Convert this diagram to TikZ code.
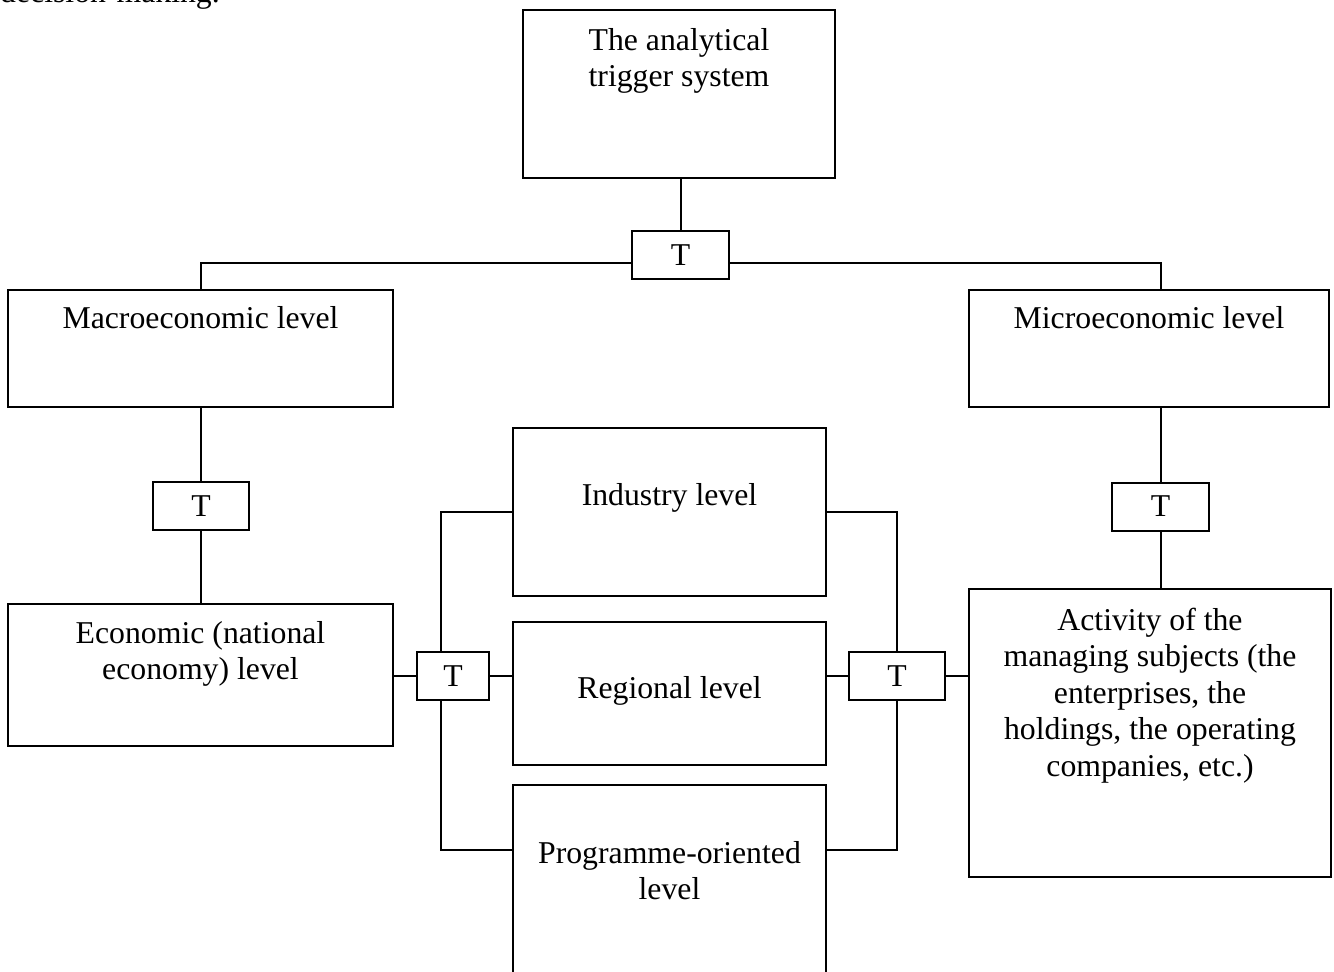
\documentclass[tikz,border=0pt]{standalone}
\usepackage{fontspec}
\setmainfont{Liberation Serif}
\usetikzlibrary{backgrounds}
\begin{document}
\begin{tikzpicture}[x=1pt,y=-1pt,
  box/.style={draw, line width=2pt, fill=white, inner sep=0pt},
  sz/.style 2 args={minimum width=#1pt, minimum height=#2pt},
  txt/.style={font=\fontsize{31.75}{36.5}\selectfont, align=center, inner sep=0pt, anchor=base},
  tbox/.style={box, minimum height=48pt, font=\fontsize{31.75}{36.5}\selectfont},
  conn/.style={line width=2pt}]
\useasboundingbox (0,0) rectangle (1334,972);
\clip (0,0) rectangle (1334,972);
% boxes
\node[box, sz={312}{168}] (top) at (679,94) {};
\node[tbox, minimum width=97pt] (tT) at (680.5,255) {T};
\node[box, sz={385}{117}] (macro) at (200.5,348.5) {};
\node[box, sz={360}{117}] (micro) at (1149,348.5) {};
\node[tbox, minimum width=96pt] (tA) at (201,506) {T};
\node[tbox, minimum width=97pt] (tR) at (1160.5,506.5) {T};
\node[box, sz={385}{142}] (econ) at (200.5,675) {};
\node[box, sz={313}{168}] (industry) at (669.5,512) {};
\node[box, sz={313}{143}] (regional) at (669.5,693.5) {};
\node[box, sz={313}{240}] (programme) at (669.5,905) {};
\node[box, sz={362}{288}] (act) at (1150,733) {};
\node[tbox, minimum width=72pt] (tL) at (453,676) {T};
\node[tbox, minimum width=96pt] (tM) at (897,676) {T};
\coordinate (pL) at (441,850);
\coordinate (pR) at (897,850);
% texts (anchor = baseline of the last line)
\node[txt] (dm) [anchor=base west] at (0,2) {decision-making.};
\node[txt] (topt) at (679,86.5) {The analytical\\trigger system};
\node[txt] (macrot) at (200.5,328) {Macroeconomic level};
\node[txt] (microt) at (1149,328) {Microeconomic level};
\node[txt] (econt) at (200.5,679.5) {Economic (national\\economy) level};
\node[txt] (indt) at (669.5,505) {Industry level};
\node[txt] (regt) at (669.5,698) {Regional level};
\node[txt] (progt) at (669.5,899.5) {Programme-oriented\\level};
\node[txt] (actt) at (1150,776) {Activity of the\\managing subjects (the\\enterprises, the\\holdings, the operating\\companies, etc.)};
% connectors
\begin{scope}[on background layer]
\draw[conn] (tT.north) -- (tT.north |- top.south);
\draw[conn] ([yshift=-8pt]tT.west) -| (macro.north);
\draw[conn] ([yshift=-8pt]tT.east) -| (tR.north |- micro.north);
\draw[conn] (tA.north |- macro.south) -- (tA.north);
\draw[conn] (tA.south) -- (tA.south |- econ.north);
\draw[conn] (tR.north |- micro.south) -- (tR.north);
\draw[conn] (tR.south) -- (tR.south |- act.north);
\draw[conn] (tL.west -| econ.east) -- (tL.west);
\draw[conn] (tL.east) -- (tL.east -| regional.west);
\draw[conn] (industry.west) -| (pL) -- (pL -| programme.west);
\draw[conn] (industry.east) -| (pR) -- (pR -| programme.east);
\draw[conn] (tM.west -| regional.east) -- (tM.west);
\draw[conn] (tM.east) -- (tM.east -| act.west);
\end{scope}
\end{tikzpicture}
\end{document}
